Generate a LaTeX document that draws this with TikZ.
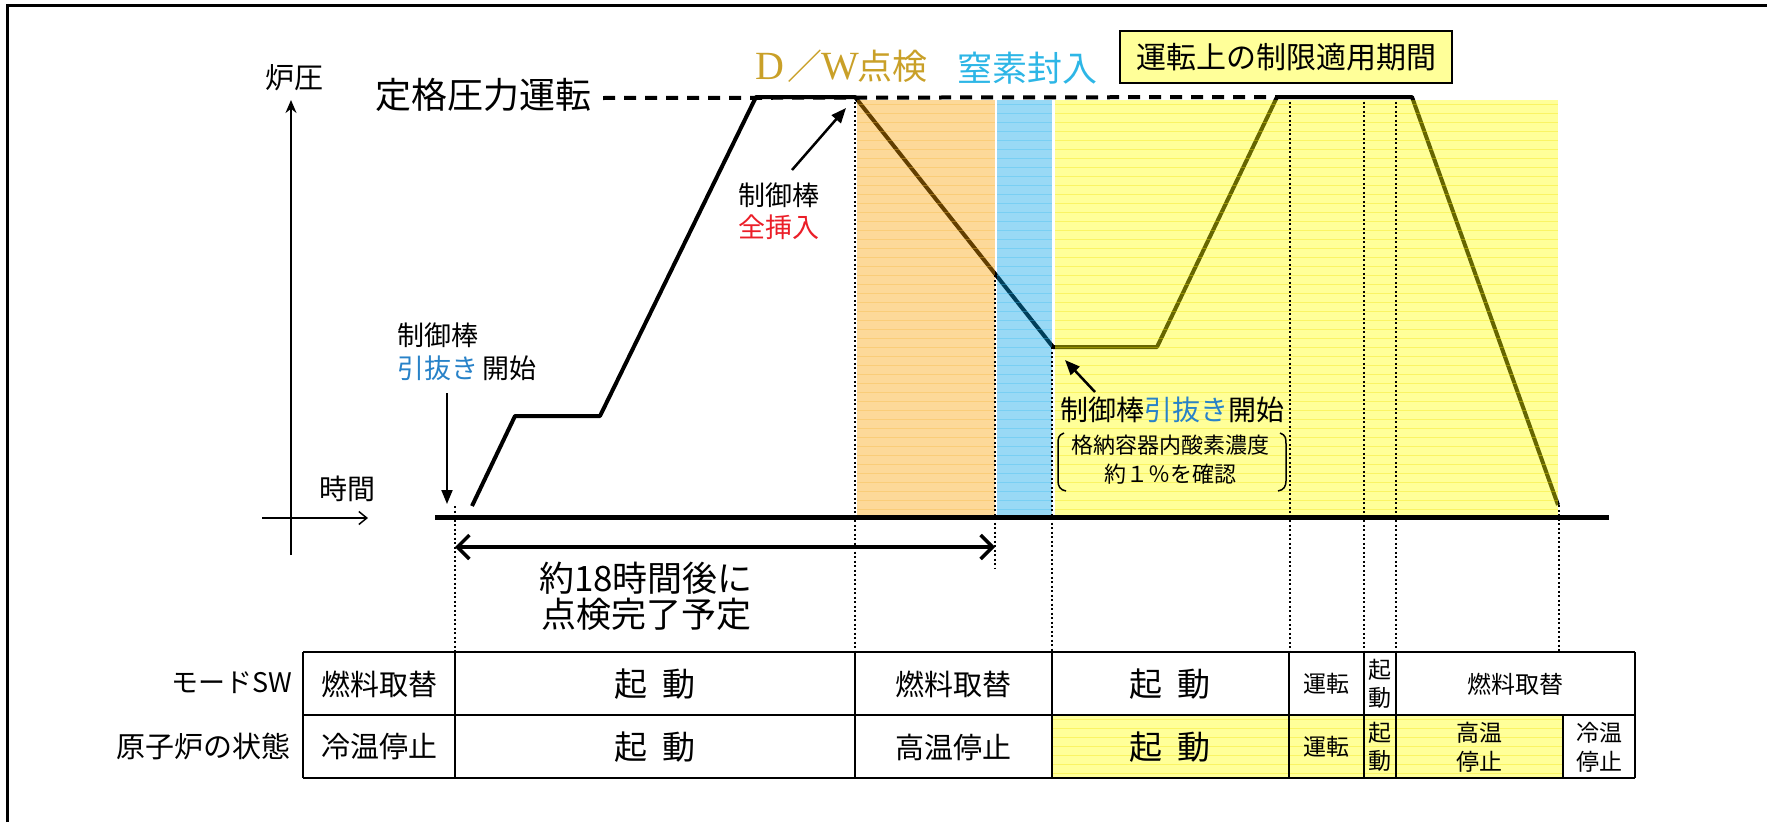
\documentclass[tikz,border=0pt]{standalone}
\usepackage{fontspec}
\setmainfont{Noto Sans CJK JP}
\newfontfamily\latinserif{Liberation Serif}
\usetikzlibrary{arrows.meta}
\definecolor{dwgold}{RGB}{201,160,40}
\definecolor{ntblue}{RGB}{45,182,230}
\definecolor{pullblue}{RGB}{40,130,200}
\definecolor{insred}{RGB}{235,30,40}
\definecolor{bandY}{rgb}{1,1,0}
\definecolor{bandO}{rgb}{0.975,0.625,0}
\definecolor{bandB}{rgb}{0,0.625,0.9}
\definecolor{boxY}{RGB}{255,255,153}
\definecolor{stripeY}{RGB}{240,225,0}
\definecolor{stripeO}{RGB}{245,185,60}
\definecolor{stripeB}{RGB}{60,190,240}
\newcommand\myfs[1]{\fontsize{#1}{#1}\selectfont}
\newcommand\kidou{起\hspace{0.45em}動}
\newcommand\fwlat[1]{\makebox[1em][c]{\latinserif\fontsize{40}{40}\selectfont #1}}
\begin{document}
\begin{tikzpicture}[x=1pt,y=-1pt,
  lbl/.style={inner sep=0pt,outer sep=0pt},
  pline/.style={line width=4pt,line join=round},
  dotln/.style={line width=2pt,dash pattern=on 2pt off 2.5pt},
  tline/.style={line width=2.5pt},
  band/.style={fill opacity=0.4},
  stripe/.style={line width=0.8pt,opacity=0.35}]
\useasboundingbox (0,0) rectangle (1767,822);
% frame
\draw[line width=3pt] (7,822) -- (7,5) -- (1767,5);

% pressure curve points
\coordinate (P0) at (472,506);
\coordinate (P1) at (515,416);
\coordinate (P2) at (600,416);
\coordinate (P3) at (756,97);
\coordinate (P4) at (855,97);
\coordinate (P5) at (1053,347);
\coordinate (P6) at (1157,347);
\coordinate (P7) at (1277,97);
\coordinate (P8) at (1412,97);
\coordinate (P9) at (1558,505);

% dashed rated-pressure line
\coordinate (D0) at (603,98);
\draw[line width=4pt,dash pattern=on 12pt off 9pt] (D0) -- (P7);

\draw[pline] (P0) -- (P1) -- (P2) -- (P3) -- (P4) -- (P5) -- (P6) -- (P7) -- (P8) -- (P9);

% bands
\fill[band,bandO] (857,100) rectangle (995,517);
\fill[band,bandB] (997,100) rectangle (1052,517);
\fill[band,bandY] (1055,100) rectangle (1558,517);
\foreach \yy in {104,113,...,517}{
  \draw[stripe,stripeO] (857,\yy) -- (995,\yy);
  \draw[stripe,stripeB] (997,\yy) -- (1052,\yy);
  \draw[stripe,stripeY] (1055,\yy) -- (1558,\yy);
}
% yellow cells in table
\fill[band,bandY] (1052,715) rectangle (1563,778);
\foreach \yy in {719,728,...,778}{
  \draw[stripe,stripeY] (1052,\yy) -- (1563,\yy);
}

% dotted verticals
\draw[dotln] (455,506) -- (455,652);
\draw[dotln] (855,97) -- (855,652);
\draw[dotln] (995,275) -- (995,568);
\draw[dotln] (1052,347) -- (1052,652);
\draw[dotln] (1290,97) -- (1290,652);
\draw[dotln] (1364,97) -- (1364,652);
\draw[dotln] (1396,97) -- (1396,652);
\draw[dotln] (1559,505) -- (1559,652);

% axes
\coordinate (VA0) at (291,555);
\coordinate (VA1) at (291,100);
\draw[line width=1.5pt,-{Stealth[length=13pt,width=11pt]}] (VA0) -- (VA1);
\coordinate (HA0) at (262,518);
\coordinate (HA1) at (368,518);
\draw[line width=1.5pt,-{Straight Barb[length=8pt,width=13pt]}] (HA0) -- (HA1);
\coordinate (T0) at (435,517);
\coordinate (T1) at (1609,517);
\draw[line width=5pt] (T0) -- (T1);

% labels
\node[lbl,font=\myfs{29}] (ro) at (294,78) {炉圧};
\node[lbl,font=\myfs{36}] (teikaku) at (483,95) {定格圧力運転};
\node[lbl,font=\myfs{28}] (jikan) at (347,489) {時間};
\node[lbl,font=\myfs{27},anchor=west] (cr1a) at (397,335) {制御棒};
\node[lbl,font=\myfs{27},anchor=west] (cr1b) at (397,368) {\textcolor{pullblue}{引抜き}\,開始};
\node[lbl,font=\myfs{27}] (cr2a) at (779,195) {制御棒};
\node[lbl,font=\myfs{27},text=insred] (cr2b) at (779,227) {全挿入};
\node[lbl,font=\myfs{35},text=dwgold] (dw) at (840,66) {\fwlat{D}／\fwlat{W}点検};
\node[lbl,font=\myfs{35},text=ntblue] (nt) at (1027,68) {窒素封入};
\node[draw,line width=2pt,fill=boxY,minimum width=332pt,minimum height=52pt,inner sep=0pt,font=\myfs{30}] (lco) at (1286,57) {運転上の制限適用期間};
\node[lbl,font=\myfs{28}] (cr3) at (1172,410) {制御棒\textcolor{pullblue}{引抜き}開始};
\node[lbl,font=\fontsize{22}{29}\selectfont,align=center] (oxy) at (1170,460) {格納容器内酸素濃度\\約１％を確認};
\node[lbl,font=\fontsize{35}{36}\selectfont,align=center] (eta) at (646,596) {約18時間後に\\点検完了予定};
\node[lbl,font=\myfs{27},anchor=east] (mode) at (292,683) {モードSW};
\node[lbl,font=\myfs{29},anchor=east] (state) at (290,746) {原子炉の状態};

% brackets
\draw[line width=1.5pt] (1064,433) .. controls (1058,435) and (1058,439) .. (1058,444) -- (1058,481) .. controls (1058,486) and (1060,490) .. (1066,491);
\draw[line width=1.5pt] (1280,433) .. controls (1286,435) and (1286,439) .. (1286,444) -- (1286,481) .. controls (1286,486) and (1284,490) .. (1278,491);

% arrows
\coordinate (A1s) at (447,393);
\coordinate (A1e) at (447,504);
\draw[line width=2pt,-{Triangle[length=14pt,width=11pt]}] (A1s) -- (A1e);
\coordinate (A2s) at (792,170);
\draw[line width=2.5pt,-{Triangle[length=15pt,width=12pt]}] (A2s) -- (846,108);
\coordinate (A3s) at (1095,392);
\coordinate (A3e) at (1065,360);
\draw[line width=2.5pt,-{Triangle[length=15pt,width=12pt]}] (A3s) -- (A3e);
\coordinate (B0) at (455,547);
\coordinate (B1) at (995,547);
\draw[line width=3.5pt,{Straight Barb[length=12pt,width=24pt]}-{Straight Barb[length=12pt,width=24pt]}] (B0) -- (B1);

% table grid
\draw[tline] (303,652) -- (1635,652);
\draw[tline] (303,715) -- (1635,715);
\draw[tline] (303,778) -- (1635,778);
\foreach \xx in {303,455,855,1052,1289,1364,1396,1635}{
  \draw[line width=2pt] (\xx,652) -- (\xx,778);
}
\draw[line width=2pt] (1563,715) -- (1563,778);

% table texts
\node[lbl,font=\myfs{29}] (m1) at (379,684) {燃料取替};
\node[lbl,font=\myfs{33}] (m2) at (655,684) {\kidou};
\node[lbl,font=\myfs{29}] (m3) at (953,684) {燃料取替};
\node[lbl,font=\myfs{33}] (m4) at (1170,684) {\kidou};
\node[lbl,font=\myfs{23}] (m5) at (1326,684) {運転};
\node[lbl,font=\fontsize{23}{28}\selectfont,align=center] (m6) at (1380,684) {起\\動};
\node[lbl,font=\myfs{24}] (m7) at (1515,684) {燃料取替};
\node[lbl,font=\myfs{29}] (s1) at (379,747) {冷温停止};
\node[lbl,font=\myfs{33}] (s2) at (655,747) {\kidou};
\node[lbl,font=\myfs{29}] (s3) at (953,747) {高温停止};
\node[lbl,font=\myfs{33}] (s4) at (1170,747) {\kidou};
\node[lbl,font=\myfs{23}] (s5) at (1326,747) {運転};
\node[lbl,font=\fontsize{23}{28}\selectfont,align=center] (s6) at (1380,747) {起\\動};
\node[lbl,font=\fontsize{23}{29}\selectfont,align=center] (s7) at (1479,747) {高温\\停止};
\node[lbl,font=\fontsize{23}{29}\selectfont,align=center] (s8) at (1599,747) {冷温\\停止};
\end{tikzpicture}
\end{document}
